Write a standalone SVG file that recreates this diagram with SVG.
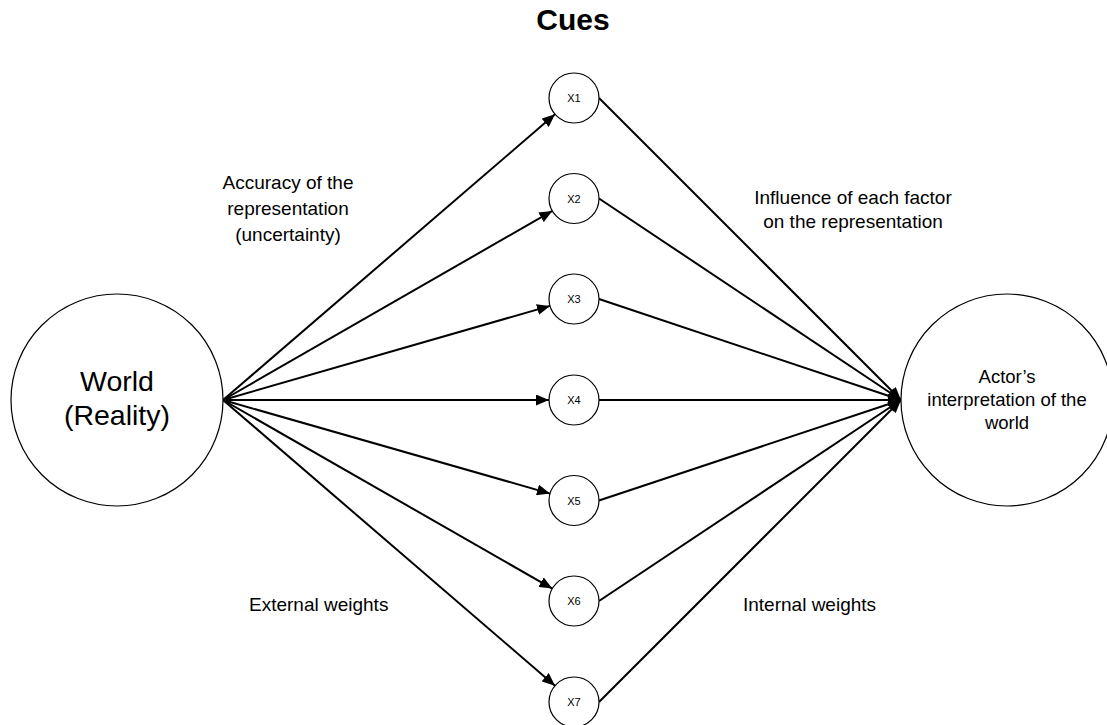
<svg xmlns="http://www.w3.org/2000/svg" width="1107" height="725" viewBox="0 0 1107 725">
  <style>
    .big { fill: #fff; stroke: #000; stroke-width: 1.2; }
    .cue { fill: #fff; stroke: #000; stroke-width: 1.2; }
    .edge { stroke: #000; stroke-width: 2; fill: none; marker-end: url(#head); }
    .lbl { font-family: "Liberation Sans", Arial, sans-serif; font-size: 19px; fill: #000; }
    .world { font-size: 28.5px; }
    .actor { font-size: 18.5px; }
    .cuelbl { font-family: "Liberation Sans", Arial, sans-serif; font-size: 11px; fill: #000; text-anchor: middle; }
    .title { font-family: "Liberation Sans", Arial, sans-serif; font-size: 30px; font-weight: bold; fill: #000; text-anchor: middle; }
  </style>
  <defs>
    <marker id="head" markerUnits="userSpaceOnUse" markerWidth="13" markerHeight="11" refX="13" refY="5.5" orient="auto">
      <path d="M0,0 L13,5.5 L0,11 z" fill="#000"/>
    </marker>
  </defs>
  <rect width="1107" height="725" fill="#fff"/>

  <text class="title" x="573" y="30">Cues</text>

  <!-- connectors: world to cues, cues to actor -->
  <g id="connectors">
    <line class="edge" x1="223" y1="400" x2="555.0" y2="114.3"/>
    <line class="edge" x1="223" y1="400" x2="552.3" y2="210.9"/>
    <line class="edge" x1="223" y1="400" x2="550.0" y2="305.9"/>
    <line class="edge" x1="223" y1="400" x2="549" y2="400"/>
    <line class="edge" x1="223" y1="400" x2="550.0" y2="493.6"/>
    <line class="edge" x1="223" y1="400" x2="552.3" y2="588.6"/>
    <line class="edge" x1="223" y1="400" x2="555.0" y2="685.7"/>

    <line class="edge" x1="599" y1="98" x2="901" y2="400"/>
    <line class="edge" x1="599" y1="198.5" x2="901" y2="400"/>
    <line class="edge" x1="599" y1="299" x2="901" y2="400"/>
    <line class="edge" x1="599" y1="400" x2="901" y2="400"/>
    <line class="edge" x1="599" y1="500.5" x2="901" y2="400"/>
    <line class="edge" x1="599" y1="601" x2="901" y2="400"/>
    <line class="edge" x1="599" y1="702" x2="901" y2="400"/>
  </g>

  <g id="world">
    <circle class="big" cx="117" cy="400" r="106"/>
    <text class="lbl world" x="117" y="391" text-anchor="middle">World</text>
    <text class="lbl world" x="117" y="425" text-anchor="middle">(Reality)</text>
  </g>

  <g id="actor">
    <circle class="big" cx="1007" cy="400" r="106"/>
    <text class="lbl actor" x="1007" y="383" text-anchor="middle">Actor’s</text>
    <text class="lbl actor" x="1007" y="406" text-anchor="middle">interpretation of the</text>
    <text class="lbl actor" x="1007" y="429" text-anchor="middle">world</text>
  </g>

  <g id="x1"><circle class="cue" cx="574" cy="98" r="25"/><text class="cuelbl" x="574" y="102">X1</text></g>
  <g id="x2"><circle class="cue" cx="574" cy="198.5" r="25"/><text class="cuelbl" x="574" y="202.5">X2</text></g>
  <g id="x3"><circle class="cue" cx="574" cy="299" r="25"/><text class="cuelbl" x="574" y="303">X3</text></g>
  <g id="x4"><circle class="cue" cx="574" cy="400" r="25"/><text class="cuelbl" x="574" y="404">X4</text></g>
  <g id="x5"><circle class="cue" cx="574" cy="500.5" r="25"/><text class="cuelbl" x="574" y="504.5">X5</text></g>
  <g id="x6"><circle class="cue" cx="574" cy="601" r="25"/><text class="cuelbl" x="574" y="605">X6</text></g>
  <g id="x7"><circle class="cue" cx="574" cy="702" r="25"/><text class="cuelbl" x="574" y="706">X7</text></g>

  <g id="labels">
    <text class="lbl" x="288" y="189" text-anchor="middle">Accuracy of the</text>
    <text class="lbl" x="288" y="215" text-anchor="middle">representation</text>
    <text class="lbl" x="288" y="241" text-anchor="middle">(uncertainty)</text>
    <text class="lbl" x="853" y="204" text-anchor="middle">Influence of each factor</text>
    <text class="lbl" x="853" y="228" text-anchor="middle">on the representation</text>
    <text class="lbl" x="249" y="611">External weights</text>
    <text class="lbl" x="743" y="611">Internal weights</text>
  </g>
</svg>
